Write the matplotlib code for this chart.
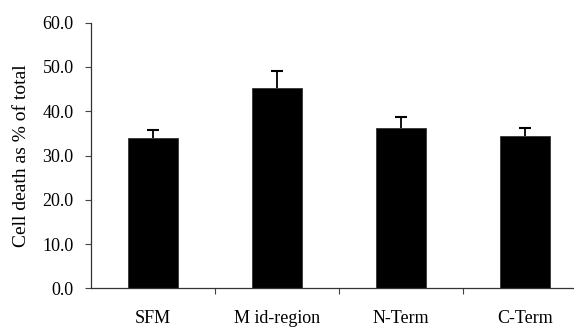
import numpy as np
import matplotlib.pyplot as plt

categories = ["SFM", "M id-region", "N-Term", "C-Term"]
means = [34.0, 45.3, 36.2, 34.4]
errors = [1.7, 3.9, 2.5, 1.7]
yticks = [0, 10, 20, 30, 40, 50, 60]

plt.rcParams['font.family'] = ['Liberation Serif', 'DejaVu Serif']

fig = plt.figure(figsize=(5.74, 3.27), dpi=100)
ax = fig.add_axes([0.1585, 0.1183, 0.8641, 0.8123])

x = np.arange(len(categories))
means = np.array(means)
errors = np.array(errors)
ax.bar(x, means, width=0.41, color='black', edgecolor='#333333', linewidth=0.6, zorder=2)
# upper error bars only
ax.vlines(x, means, means + errors, color='black', linewidth=1.3, zorder=1)
ax.hlines(means + errors, x - 0.05, x + 0.05, color='black', linewidth=1.5, zorder=1)

ax.set_xlim(-0.5, len(categories) - 0.5)
ax.set_ylim(0, 60)
ax.set_yticks(yticks)
ax.set_yticklabels([f"{v:.1f}" for v in yticks], fontsize=13)

# category labels centered, ticks at the boundaries
ax.set_xticks(x)
ax.set_xticklabels(categories, fontsize=13)
ax.tick_params(axis='x', length=0, pad=15.5)
ax.set_xticks(np.arange(0.5, len(categories) - 0.5), minor=True)
ax.tick_params(axis='x', which='minor', length=4, width=0.8, color='#444444', direction='out')
ax.tick_params(axis='y', length=4.5, width=0.8, color='#444444', direction='out', pad=8)

for side in ['top', 'right']:
    ax.spines[side].set_visible(False)
for side in ['left', 'bottom']:
    ax.spines[side].set_linewidth(0.9)
    ax.spines[side].set_color('#333333')

ax.set_ylabel("Cell death as % of total", fontsize=14, labelpad=9)

fig.savefig("out.png", dpi=100)
